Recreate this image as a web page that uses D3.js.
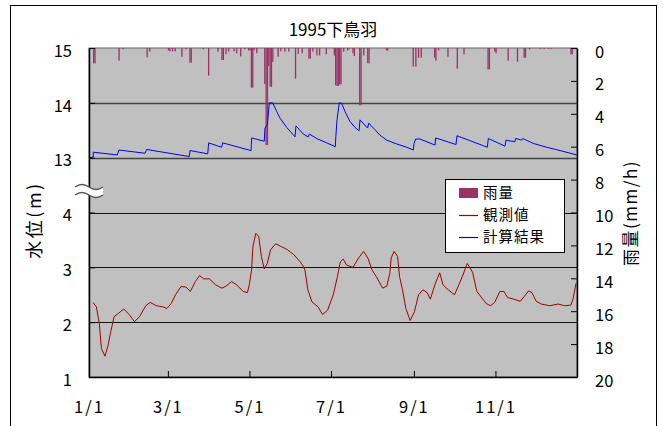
<!DOCTYPE html>
<html>
<head>
<meta charset="utf-8">
<script src="https://cdn.jsdelivr.net/npm/d3@7"></script>
<style>
  body { margin: 0; background: #fff; }
  svg { display: block; font-family: "Noto Sans CJK JP", "Noto Sans", sans-serif; }
</style>
</head>
<body>
<div id="chart"></div>
<script>
// days counted from 1995-01-01
const rainDay = [3, 4, 22, 25, 43, 45, 59, 60, 62, 64, 69, 72, 75, 76, 85, 89, 96, 99, 100, 102, 104, 108, 110, 113, 116, 119, 120, 121, 122, 123, 125,
  131, 132, 133, 134, 135, 136, 137, 141, 143, 146, 149, 154, 156, 159, 164, 165, 167, 170, 172, 177, 183, 184, 185, 186, 187, 188, 190, 193, 194,
  197, 198, 202, 203, 205, 208, 209, 222, 223, 242, 244, 246, 248, 258, 259, 261, 268, 275, 280, 298, 299, 303, 304, 313, 320, 325, 326, 329,
  337, 340, 343, 345, 360, 361, 363];
const rainMm = [0.93, 0.93, 0.77, 0.08, 0.57, 0.22, 0.15, 0.2, 0.2, 0.2, 0.53, 0.08, 0.89, 0.89, 0.08, 1.68, 0.22, 0.73, 0.73, 0.38, 0.22, 0.2, 0.32, 0.51, 0.08, 0.15, 0.15, 2.41, 2.41, 0.15, 0.32,
  2.2, 5.9, 5.9, 1.1, 2.35, 2.35, 0.85, 0.53, 0.2, 0.22, 0.22, 1.86, 0.36, 0.32, 0.65, 0.65, 0.22, 0.45, 0.45, 0.38, 0.45, 2.27, 2.31, 2.31, 2.21, 2.21, 0.22, 0.15, 0.08,
  0.32, 0.49, 3.48, 3.48, 0.45, 0.93, 0.93, 0.15, 0.15, 1.13, 1.13, 0.59, 0.59, 0.59, 0.77, 0.15, 0.53, 1.26, 0.38, 1.3, 1.3, 0.22, 0.32, 0.77, 0.83, 0.59, 0.59, 0.08,
  0.05, 0.05, 0.05, 0.05, 0.38, 0.38, 0.08];

// 計算結果
const calcDay = [0, 3.2, 3.2, 21.2, 22.4, 41.9, 43.1, 75, 75.5, 88.8, 89.5, 99.2, 100, 121.2, 121.7, 131.1, 131.6, 133.4, 134.9, 137.4, 140.4, 142.9,
  147.9, 151.6, 154.1, 154.8, 160.3, 164, 164.8, 170.3, 177.8, 184.2, 184.7, 185.5, 187.2, 189, 191.5, 195.2, 199, 202, 202.7, 208.4, 209.2, 213.9,
  217.6, 222.6, 230.1, 237.6, 242.6, 243.1, 244.3, 247.6, 258.8, 259.3, 274.5, 275.2, 297.9, 298.7, 311.1, 311.9, 318.6, 319.1, 323.6, 324.4,
  332.3, 342.3, 352.3, 364.8];
const calcLevel = [13.0, 13.01, 13.10, 13.05, 13.14, 13.08, 13.15, 13.02, 13.13, 13.07, 13.27, 13.19, 13.27, 13.13, 13.36, 13.30, 13.54, 13.60, 14.0, 14.0, 13.84, 13.72,
  13.55, 13.45, 13.38, 13.58, 13.43, 13.38, 13.43, 13.35, 13.27, 13.20, 13.41, 13.69, 14.0, 13.99, 13.84, 13.66, 13.55, 13.49, 13.69, 13.54, 13.63, 13.51,
  13.41, 13.32, 13.25, 13.19, 13.14, 13.26, 13.34, 13.34, 13.23, 13.36, 13.24, 13.40, 13.19, 13.35, 13.21, 13.32, 13.29, 13.35, 13.32, 13.35,
  13.26, 13.19, 13.13, 13.05];

// 観測値
const obsDay = [3, 5.5, 7.7, 9.3, 11.9, 14, 16.3, 18.8, 22, 26, 30, 34, 37.8, 42.5, 45.7, 50.4, 55.2, 58.3, 61.5, 64.7, 68.8, 72.6, 75.8, 79.5, 82.7, 85.9,
  90, 94.7, 99.5, 102.6, 106.7, 110.5, 115.3, 118.5, 120, 121.6, 122.6, 124.8, 127, 128.9, 131.1, 133.3, 135.8, 139.6, 143.7, 148.5, 153.2, 158, 160.5,
  161.5, 163.7, 166.8, 171.3, 174.7, 178.5, 182.7, 185.8, 188, 190.2, 192.7, 197.5, 201.6, 205.4, 208.6, 211.7, 214.9, 219.7, 222.8, 225, 226, 228.2,
  230.8, 232.3, 234.5, 237, 240.2, 243.4, 246.5, 249.7, 252.9, 255.3, 259.1, 262.3, 264.8, 268.7, 273.4, 276.6, 279.7, 282.9, 286, 287, 290.1, 293.9,
  297.1, 300.3, 303.4, 307.3, 310.4, 313, 317.7, 322.5, 325.6, 328.8, 331.3, 334.5, 338.3, 344.6, 350.9, 355.7, 360.4, 362, 364.3];
const obsLevel = [2.36, 2.28, 1.98, 1.52, 1.38, 1.55, 1.83, 2.10, 2.16, 2.24, 2.14, 2.01, 2.10, 2.30, 2.36, 2.30, 2.28, 2.25, 2.34, 2.50, 2.65, 2.64, 2.56, 2.74, 2.85, 2.79,
  2.79, 2.68, 2.62, 2.66, 2.74, 2.68, 2.56, 2.54, 2.70, 2.95, 3.38, 3.62, 3.56, 3.20, 2.97, 3.07, 3.32, 3.43, 3.38, 3.32, 3.23, 3.10, 3.01,
  2.95, 2.59, 2.37, 2.28, 2.14, 2.22, 2.50, 2.83, 3.10, 3.15, 3.04, 3.00, 3.17, 3.29, 3.17, 2.95, 2.83, 2.62, 2.66, 2.89, 3.17, 3.29,
  3.20, 2.83, 2.59, 2.25, 2.03, 2.19, 2.50, 2.59, 2.54, 2.42, 2.71, 2.90, 2.68, 2.59, 2.50, 2.68, 2.86, 3.07, 2.95, 2.90, 2.56, 2.44,
  2.34, 2.30, 2.36, 2.56, 2.56, 2.45, 2.42, 2.38, 2.47, 2.57, 2.54, 2.38, 2.33, 2.30, 2.33, 2.30, 2.31, 2.42, 2.71];

const levelTicks = [1, 2, 3, 4, 13, 14, 15];
const levelGrid = [2, 3, 4, 13, 14];
const rainTicks = [0, 2, 4, 6, 8, 10, 12, 14, 16, 18, 20];
const monthTicks = ['1/1', '3/1', '5/1', '7/1', '9/1', '11/1'];
const legendNames = ['雨量', '観測値', '計算結果'];
const legendColors = ['#993366', '#a00000', '#0000ff'];

const W = 663, H = 426;
const pLeft = 89, pRight = 577, pTop = 48, pBottom = 377;
const start = new Date(1995, 0, 1);
const toDate = d => new Date(start.getTime() + d * 86400000);

const svg = d3.select('#chart').append('svg')
  .attr('width', W)
  .attr('height', H);

// outer frame
svg.append('rect')
  .attr('x', 10.5).attr('y', 5.5)
  .attr('width', 646).attr('height', 440)
  .attr('fill', '#fff')
  .attr('stroke', '#000');

const x = d3.scaleTime()
  .domain([start, new Date(1996, 0, 1)])
  .range([pLeft, pRight]);

// broken axis: 1-4 in the lower part, 13-15 in the upper part
const band = (pBottom - pTop) / 6;
const yL = d3.scaleLinear()
  .domain([1, 4, 13, 15])
  .range([pBottom, pBottom - 3 * band, pBottom - 4 * band, pTop]);

const yR = d3.scaleLinear()
  .domain([0, 20])
  .range([pTop, pBottom]);

svg.append('rect')
  .attr('x', pLeft).attr('y', pTop)
  .attr('width', pRight - pLeft).attr('height', pBottom - pTop)
  .attr('fill', '#c0c0c0')
  .attr('stroke', '#666');

svg.append('g')
  .selectAll('line')
  .data(levelGrid)
  .enter()
  .append('line')
  .attr('x1', pLeft).attr('x2', pRight)
  .attr('y1', d => Math.round(yL(d)) + 0.5)
  .attr('y2', d => Math.round(yL(d)) + 0.5)
  .attr('stroke', d => d > 10 ? '#444' : '#111')
  .attr('stroke-width', d => d > 10 ? 1.6 : 1);

// rain bars hanging from the top
svg.append('g')
  .selectAll('rect')
  .data(rainDay)
  .enter()
  .append('rect')
  .attr('x', d => x(toDate(d)))
  .attr('y', pTop)
  .attr('width', 1.3)
  .attr('height', (d, i) => yR(rainMm[i]) - pTop)
  .attr('fill', legendColors[0]);

const line = d3.line()
  .x(d => x(toDate(d[0])))
  .y(d => yL(d[1]));

svg.append('path')
  .datum(calcDay.map((d, i) => [d, calcLevel[i]]))
  .attr('d', line)
  .attr('fill', 'none')
  .attr('stroke', legendColors[2])
  .attr('stroke-width', 1);

svg.append('path')
  .datum(obsDay.map((d, i) => [d, obsLevel[i]]))
  .attr('d', line)
  .attr('fill', 'none')
  .attr('stroke', legendColors[1])
  .attr('stroke-width', 1);

// axes
const xAxis = d3.axisBottom(x)
  .tickValues(monthTicks.map(t => new Date(1995, +t.split('/')[0] - 1, 1)))
  .tickSize(-6)
  .tickSizeOuter(0)
  .tickPadding(24)
  .tickFormat((d, i) => monthTicks[i]);
svg.append('g')
  .attr('transform', 'translate(0,' + pBottom + ')')
  .call(xAxis)
  .call(g => g.selectAll('text').attr('font-size', 16.5).attr('letter-spacing', 2).attr('fill', '#000'))
  .attr('font-family', null);

const yAxis = d3.axisLeft(yL)
  .tickValues(levelTicks)
  .tickSize(-6)
  .tickSizeOuter(0)
  .tickPadding(17)
  .tickFormat(d3.format('d'));
svg.append('g')
  .attr('transform', 'translate(' + pLeft + ',0)')
  .call(yAxis)
  .call(g => g.selectAll('text').attr('font-size', 16.5).attr('dy', '0.5em').attr('fill', '#000'))
  .attr('font-family', null);

const rAxis = d3.axisRight(yR)
  .tickValues(rainTicks)
  .tickSize(-6)
  .tickSizeOuter(0)
  .tickPadding(18);
svg.append('g')
  .attr('transform', 'translate(' + pRight + ',0)')
  .call(rAxis)
  .call(g => g.selectAll('text').attr('font-size', 16.5).attr('dy', '0.55em').attr('fill', '#000'))
  .attr('font-family', null);

svg.selectAll('.domain').attr('stroke-width', 1.5);

// break mark on the left axis
const brk = svg.append('g').attr('transform', 'translate(' + pLeft + ',191)');
brk.append('path')
  .attr('d', 'M-14,-4 q7,-5 14,0 t14,0 L14,4 q-7,5 -14,0 t-14,0 Z')
  .attr('fill', '#fff');
brk.append('path')
  .attr('d', 'M-14,-4 q7,-5 14,0 t14,0 M-14,4 q7,-5 14,0 t14,0')
  .attr('fill', 'none')
  .attr('stroke', '#555')
  .attr('stroke-width', 1.5);

// title and axis titles
svg.append('text')
  .attr('x', 333).attr('y', 36)
  .attr('text-anchor', 'middle')
  .attr('font-size', 17)
  .text('1995下鳥羽');

svg.append('text')
  .attr('transform', 'translate(41,220) rotate(-90)')
  .attr('text-anchor', 'middle')
  .attr('font-size', 18)
  .attr('letter-spacing', 2.5)
  .text('水位(m)');

svg.append('text')
  .attr('transform', 'translate(637,213) rotate(-90)')
  .attr('text-anchor', 'middle')
  .attr('font-size', 17)
  .attr('letter-spacing', 1.5)
  .text('雨量(mm/h)');

// legend
const lg = svg.append('g').attr('transform', 'translate(445,179)');
lg.append('rect')
  .attr('x', 0.5).attr('y', 0.5)
  .attr('width', 119).attr('height', 73)
  .attr('fill', '#fff')
  .attr('stroke', '#000');
const items = lg.selectAll('.item')
  .data(legendNames)
  .enter()
  .append('g')
  .attr('transform', (d, i) => 'translate(14,' + (14 + i * 22) + ')');
items.filter((d, i) => i === 0)
  .append('rect')
  .attr('x', 0).attr('y', -5)
  .attr('width', 19).attr('height', 10)
  .attr('fill', legendColors[0]);
items.filter((d, i) => i > 0)
  .append('path')
  .attr('d', 'M0,0.5H19')
  .attr('stroke', d => legendColors[legendNames.indexOf(d)])
  .attr('stroke-width', 1.2);
items.append('text')
  .attr('x', 24)
  .attr('dy', '0.36em')
  .attr('font-size', 14.5)
  .attr('letter-spacing', 1)
  .text(d => d);
</script>
</body>
</html>
